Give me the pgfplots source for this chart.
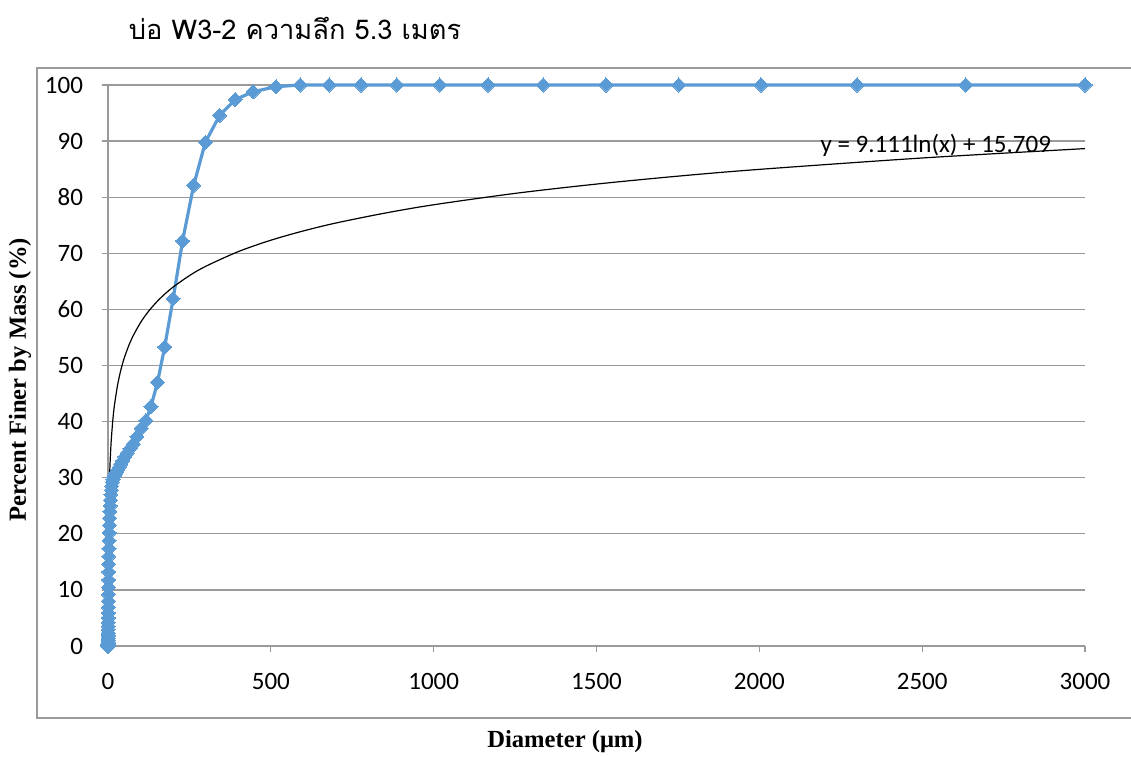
\documentclass[border=0pt]{standalone}
\usepackage{pgfplots}
\pgfplotsset{compat=1.18}
\usepackage{fontspec}
\setmainfont{Liberation Serif}
\newfontfamily\calibri{Carlito}
\newfontfamily\thaifont[Script=Thai]{Loma}
\definecolor{xlblue}{HTML}{5B9BD5}
\definecolor{xlgrid}{HTML}{9A9A9A}
\begin{document}
\begin{tikzpicture}[x=1pt,y=1pt]
\useasboundingbox (-54,-55) rectangle (511.5,323);
\draw[xlgrid,line width=0.6pt] (-35.5,-36) rectangle (530,289);
\node[font=\thaifont\fontsize{13.6}{16}\selectfont,anchor=center] at (93.5,309) {บ่อ W3-2 ความลึก 5.3 เมตร};
\begin{axis}[
  at={(0,0)}, anchor=south west,
  scale only axis, width=488.5pt, height=280.5pt,
  xmin=0, xmax=3000, ymin=0, ymax=100,
  xtick={0,500,...,3000}, ytick={0,10,...,100},
  axis x line*=bottom, axis y line*=left,
  axis line style={xlgrid,line width=0.6pt,-},
  ymajorgrids, grid style={xlgrid,line width=0.6pt},
  tick style={xlgrid,line width=0.6pt},
  tick align=outside, major tick length=3pt,
  ticklabel style={font=\calibri\fontsize{12.5}{15}\selectfont},
  /pgf/number format/assume math mode=true,
  /pgf/number format/1000 sep={},
  yticklabel style={xshift=-6pt},
  xticklabel style={yshift=-7pt},
  clip=false,
]
\addplot[xlblue, line width=1.6pt, mark=square*, mark size=2.5pt, mark options={rotate=45,fill=xlblue,draw=xlblue,line width=0pt}] coordinates {
(3000,100) (2634,100) (2300,100) (2005,100) (1753,100) (1529,100) (1336,100) (1167,100) (1019,100) (887,100) (777,100) (679,100) (590,100)
(516,99.7) (446,98.8) (391,97.4) (343,94.6) (299,89.8) (263,82.1) (229,72.2) (200,61.9) (174,53.3) (152,47.0) (132,42.7)
(116.3,40.2) (101.6,38.8) (88.7,37.3) (77.5,36.0) (67.7,35.2) (59.1,34.4) (51.6,33.7) (45.1,33.0) (39.4,32.4) (34.4,31.8)
(30.0,31.4) (26.2,31.0) (22.9,30.7) (20.0,30.4) (17.5,30.1) (15.3,29.7) (13.3,29.2) (11.6,28.5) (10.2,27.8) (8.9,27.0)
(7.8,26.0) (6.8,25.0) (5.9,24.0) (5.2,22.8) (4.5,21.5) (3.9,20.2) (3.45,18.8) (3.0,17.4) (2.6,16.0) (2.3,14.6) (2.0,13.2)
(1.75,11.8) (1.53,10.5) (1.34,9.2) (1.17,8.0) (1.02,6.9) (0.89,5.9) (0.78,5.0) (0.68,4.2) (0.59,3.5) (0.52,2.9) (0.45,2.3)
(0.40,1.8) (0.34,1.4) (0.30,1.0) (0.26,0.7) (0.23,0.4) (0.20,0.2) (0.18,0.1) (0.04,0)
};
\addplot[black, line width=0.6pt, smooth] coordinates {
(0.178,0) (0.25,3.08) (0.3,4.74) (0.4,7.36) (0.5,9.39) (0.7,12.46) (1,15.71) (1.5,19.40) (2,22.02) (3,25.72) (5,30.37) (7,33.44)
(10,36.69) (15,40.38) (20,43.00) (30,46.70) (40,49.32) (50,51.35) (65,53.74) (75,55.05) (100,57.67) (125,59.70) (150,61.36)
(175,62.77) (200,63.98) (250,66.02) (300,67.68) (400,70.30) (500,72.33) (600,73.99) (700,75.40) (850,77.16) (1000,78.65)
(1250,80.68) (1500,82.34) (1750,83.75) (2000,84.96) (2500,86.99) (3000,88.66)
};
\node[font=\calibri\fontsize{12.5}{15}\selectfont] at (axis cs:2542,89.2) {y = 9.111ln(x) + 15.709};
\end{axis}
\node[rotate=90,font=\bfseries\fontsize{12.3}{14}\selectfont] at (-44,133) {Percent Finer by Mass (\%)};
\node[font=\bfseries\fontsize{12.3}{14}\selectfont] at (228.5,-48) {Diameter (μm)};
\end{tikzpicture}
\end{document}
